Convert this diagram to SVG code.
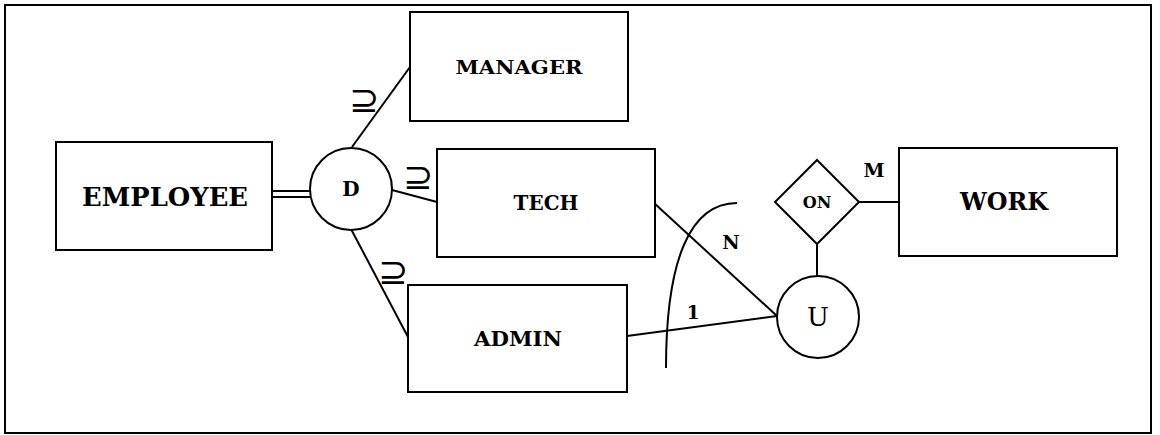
<svg xmlns="http://www.w3.org/2000/svg" width="1160" height="435" viewBox="0 0 1160 435">
<style>
.box{fill:#fff;stroke:#000;stroke-width:2}
.ln{fill:none;stroke:#000;stroke-width:2}
.t{font-family:"DejaVu Serif","Liberation Serif",serif;font-weight:bold;fill:#000;text-anchor:middle}
.sym{font-family:"DejaVu Sans","Liberation Sans",sans-serif;fill:#000;text-anchor:middle;font-size:36px}
</style>
<rect x="5" y="5" width="1146" height="428" fill="#fff" stroke="#000" stroke-width="2"/>
<g id="connectors">
<line class="ln" x1="273" y1="191" x2="311" y2="191"/>
<line class="ln" x1="273" y1="197" x2="312" y2="197"/>
<line class="ln" x1="352" y1="147" x2="410" y2="67"/>
<line class="ln" x1="392" y1="190" x2="437" y2="202"/>
<line class="ln" x1="351" y1="229" x2="408" y2="337"/>
<line class="ln" x1="654" y1="203" x2="777" y2="316"/>
<line class="ln" x1="627" y1="336" x2="777" y2="316"/>
<line class="ln" x1="859" y1="202" x2="899" y2="202"/>
<line class="ln" x1="817" y1="244" x2="817" y2="276"/>
<path class="ln" d="M737,203 C690,203 666,260 666,368"/>
<text class="sym" x="364" y="112">⊇</text>
<text class="sym" x="418" y="189">⊇</text>
<text class="sym" x="393" y="284">⊇</text>
<text class="t" x="731" y="249" font-size="19">N</text>
<text class="t" x="693" y="319" font-size="19">1</text>
<text class="t" x="874" y="177" font-size="19">M</text>
</g>
<g id="employee"><rect class="box" x="56" y="142" width="216" height="108"/><text class="t" x="165" y="206" font-size="26" textLength="166" lengthAdjust="spacingAndGlyphs">EMPLOYEE</text></g>
<g id="manager"><rect class="box" x="410" y="12" width="218" height="109"/><text class="t" x="519" y="74" font-size="18" textLength="127" lengthAdjust="spacingAndGlyphs">MANAGER</text></g>
<g id="tech"><rect class="box" x="437" y="149" width="218" height="108"/><text class="t" x="546" y="210" font-size="20">TECH</text></g>
<g id="admin"><rect class="box" x="408" y="285" width="219" height="107"/><text class="t" x="518" y="346" font-size="21" textLength="88" lengthAdjust="spacingAndGlyphs">ADMIN</text></g>
<g id="work"><rect class="box" x="899" y="148" width="218" height="108"/><text class="t" x="1004" y="210" font-size="24" textLength="88" lengthAdjust="spacingAndGlyphs">WORK</text></g>
<g id="d"><circle class="box" cx="351" cy="189" r="41"/><text class="t" x="351" y="196" font-size="20">D</text></g>
<g id="on"><polygon class="box" points="817,160 859,202 817,244 775,202"/><text class="t" x="817" y="208" font-size="16">ON</text></g>
<g id="u"><circle class="box" cx="818" cy="317" r="41"/><text x="818" y="326" font-size="26" font-family="DejaVu Serif, Liberation Serif, serif" text-anchor="middle">U</text></g>
</svg>
